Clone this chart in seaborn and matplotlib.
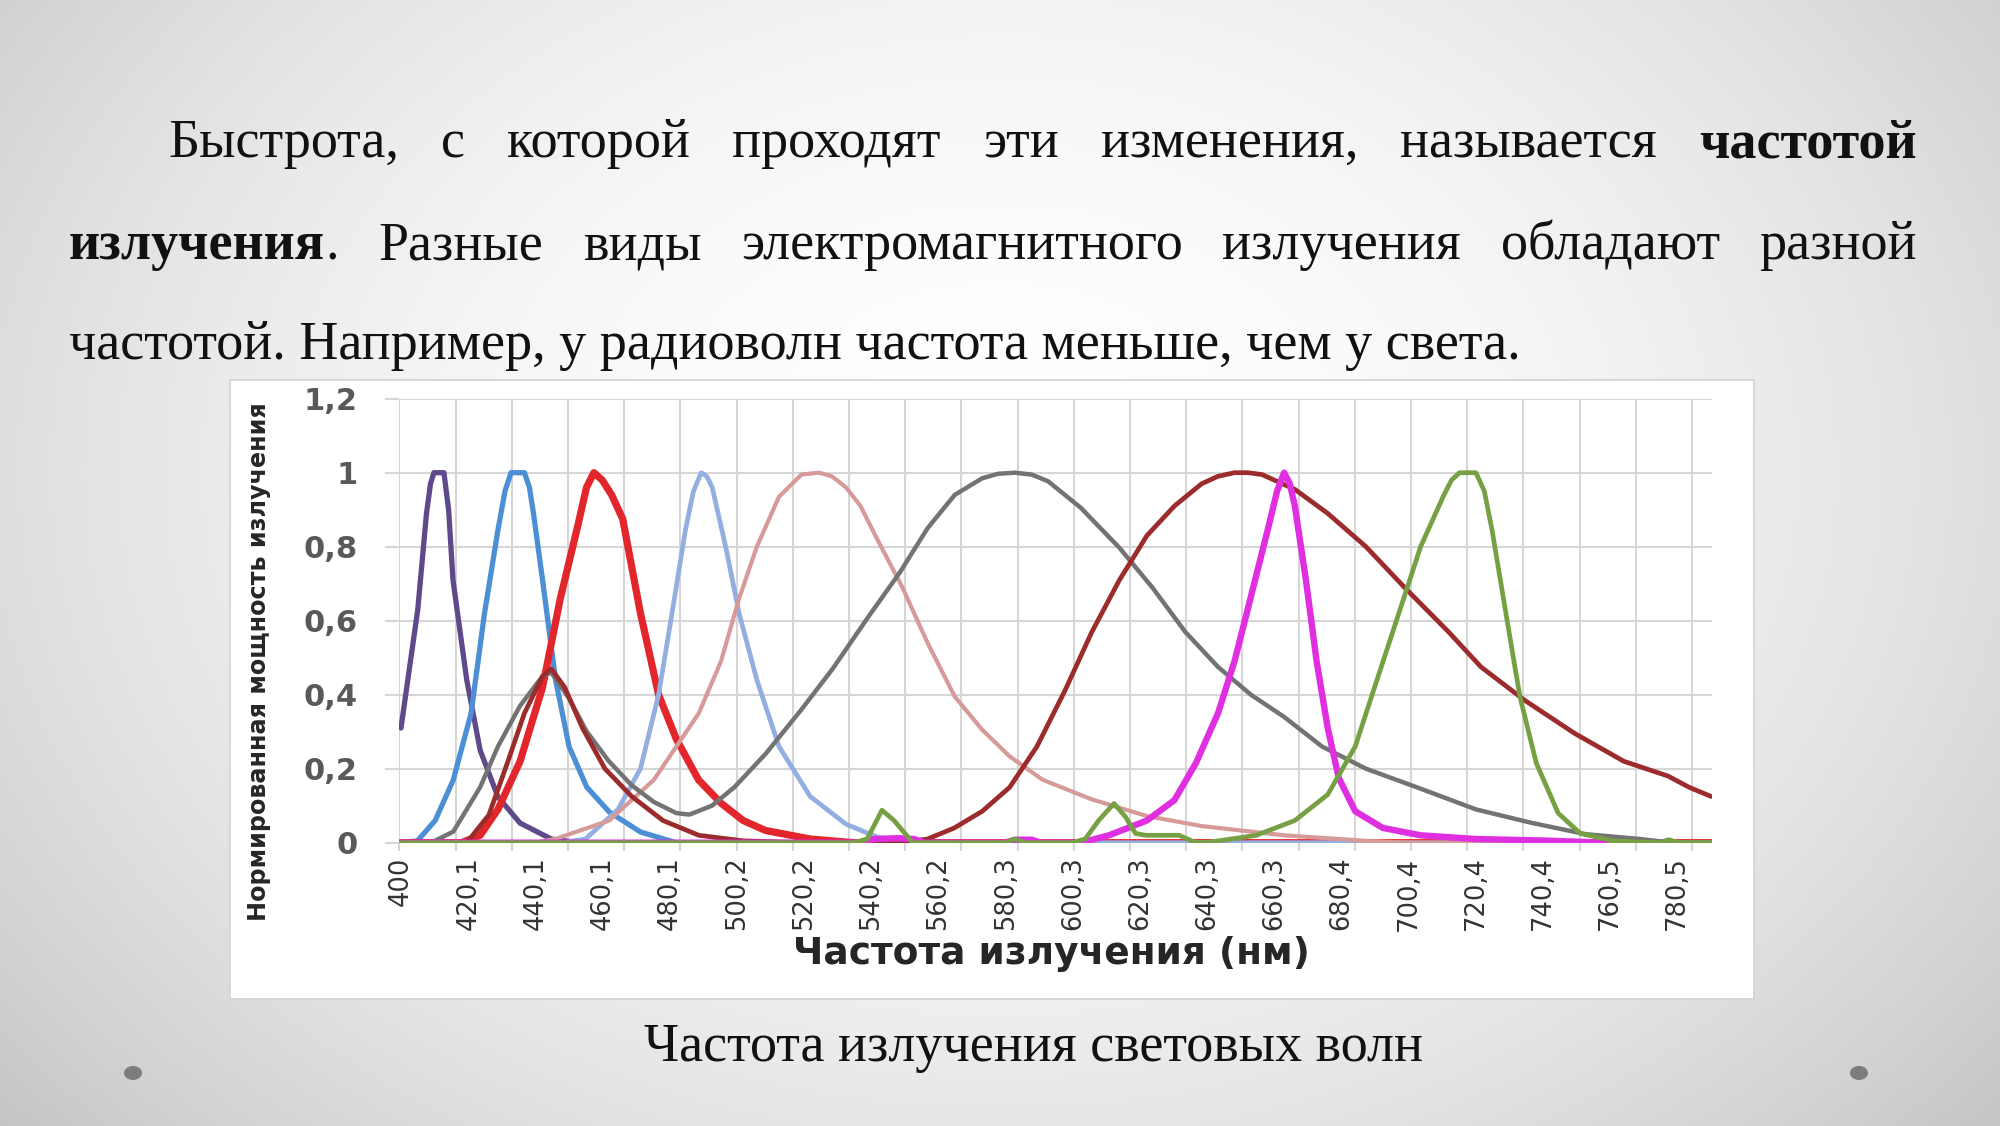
import numpy as np
import pandas as pd
import matplotlib
matplotlib.use("Agg")
import matplotlib.pyplot as plt
from matplotlib.patches import Rectangle, Ellipse
import seaborn as sns

# ---------------- data ----------------
series_names = ["purple", "blue", "red", "lightblue", "pink", "grey", "darkred", "magenta", "green"]

purple_x = [400, 402.5, 405, 407.6, 408.8, 409.8, 412.8, 414.2, 415.5, 419.6, 423.6, 428.9, 435.5, 444.8, 453, 790.6]
purple_y = [0.31, 0.47, 0.63, 0.89, 0.97, 1.0, 1.0, 0.9, 0.71, 0.44, 0.25, 0.124, 0.053, 0.01, 0.0, 0.0]

blue_x = [400, 404.9, 410.2, 415.6, 420.9, 424.9, 428.9, 431.0, 432.8, 436.8, 438.3, 439.5, 442.2, 446.1, 450.1,
          455.4, 462.1, 471.4, 482, 790.6]
blue_y = [0, 0.005, 0.06, 0.17, 0.35, 0.62, 0.845, 0.95, 1.0, 1.0, 0.96, 0.89, 0.71, 0.44, 0.26,
          0.15, 0.083, 0.029, 0.0, 0.0]

red_x = [400, 418, 423.6, 428.9, 435.5, 442.2, 447.5, 452.8, 455.3, 457.5, 460, 462.8, 466.1, 471.4, 476.8, 482.1,
         488.7, 495.4, 502, 508.7, 522, 535, 790.6]
red_y = [0, 0, 0.02, 0.09, 0.22, 0.42, 0.66, 0.86, 0.96, 1.0, 0.98, 0.94, 0.875, 0.62, 0.4, 0.28,
         0.17, 0.107, 0.06, 0.033, 0.01, 0, 0]

lightblue_x = [400, 448, 455, 464.7, 471.4, 476.8, 480.8, 484.8, 487.2, 489.5, 491.2, 492.8, 496.8, 500.8, 506.1,
               512.7, 522, 532.7, 542, 550, 790.6]
lightblue_y = [0, 0, 0.01, 0.09, 0.2, 0.4, 0.62, 0.845, 0.95, 1.0, 0.99, 0.96, 0.8, 0.62, 0.44,
               0.26, 0.125, 0.05, 0.015, 0, 0]

pink_x = [400, 440, 446, 462.1, 475.4, 488.8, 495.4, 500.8, 506.1, 512.7, 519.4, 524.7, 528.5, 532.7, 537, 542, 549.5,
          557, 565.1, 573.3, 581.5, 591.3, 606, 622.4, 638.7, 663.3, 687.7, 700, 790.6]
pink_y = [0, 0, 0.01, 0.06, 0.17, 0.35, 0.49, 0.66, 0.8, 0.935, 0.995, 1.0, 0.99, 0.96, 0.91, 0.82, 0.69,
          0.54, 0.395, 0.305, 0.233, 0.17, 0.117, 0.072, 0.045, 0.02, 0.005, 0, 0]

grey_x = [400, 409, 415.6, 423.6, 428.9, 435.5, 442.2, 444.8, 450.1, 455.4, 462, 468.8, 475.4, 482.1, 486, 492.7, 499.4,
          508.7, 519.4, 528.7, 539.3, 548.7, 557, 565.1, 573.3, 578, 583, 588, 592.9, 602.7, 614.2, 624, 633.8,
          643.6, 653.4, 663.3, 674.6, 687.7, 704, 720.5, 736.9, 753.2, 769.4, 775, 780, 790.6]
grey_y = [0, 0, 0.03, 0.15, 0.26, 0.37, 0.45, 0.46, 0.39, 0.3, 0.22, 0.155, 0.11, 0.08, 0.076, 0.1, 0.15,
          0.24, 0.36, 0.47, 0.61, 0.73, 0.85, 0.94, 0.985, 0.997, 1.0, 0.995, 0.977, 0.905, 0.797, 0.69, 0.57,
          0.475, 0.4, 0.34, 0.26, 0.2, 0.146, 0.09, 0.054, 0.023, 0.01, 0.004, 0.0, 0.0]

darkred_x = [400, 419.6, 426.2, 431.5, 436.8, 442.2, 444.8, 448.8, 454.1, 460.8, 468.8, 478.1, 488.8, 502, 520, 548.8,
             557, 565, 573.3, 581.5, 589.6, 597.9, 606, 614.2, 622.4, 630.6, 638.7, 643.5, 648.5, 652.5, 656.7,
             666.5, 676.3, 687.7, 699.2, 712.3, 722, 735, 750, 764.6, 777.8, 784, 790.6]
darkred_y = [0, 0, 0.075, 0.21, 0.35, 0.45, 0.47, 0.42, 0.31, 0.2, 0.125, 0.06, 0.02, 0.005, 0.0, 0.0,
             0.01, 0.04, 0.085, 0.15, 0.26, 0.41, 0.57, 0.71, 0.83, 0.91, 0.97, 0.99, 1.0, 1.0, 0.995,
             0.955, 0.89, 0.8, 0.69, 0.57, 0.475, 0.385, 0.295, 0.22, 0.18, 0.15, 0.125]

magenta_x = [400, 538, 541, 548, 553, 556, 580, 583, 588, 591, 602.7, 611.1, 622.4, 630.6, 637, 643.6, 648.5, 653.4,
             658.4, 661.2, 663.3, 665.0, 666.5, 669.8, 673, 676.3, 679.6, 684.5, 692.7, 704, 720.5, 740, 759.5]
magenta_y = [0, 0, 0.01, 0.012, 0.01, 0, 0, 0.008, 0.008, 0, 0, 0.02, 0.06, 0.115, 0.215, 0.35, 0.49, 0.665,
             0.845, 0.95, 1.0, 0.97, 0.91, 0.71, 0.49, 0.31, 0.175, 0.085, 0.04, 0.02, 0.01, 0.006, 0.0]

green_x = [400, 535, 539, 543.4, 547, 552.6, 560, 580, 583, 586, 600, 604, 608, 612.6, 616, 619, 622, 632, 637, 640,
           655, 666.5, 676.3, 684.5, 691, 697.5, 704, 710.7, 713.2, 715.6, 720.5, 723, 725.3, 728.6, 733.6, 738.5,
           745, 751.6, 761.4, 775, 778, 781, 790.6]
green_y = [0, 0, 0.01, 0.088, 0.06, 0, 0, 0, 0.01, 0, 0, 0.01, 0.06, 0.106, 0.07, 0.025, 0.02, 0.02, 0, 0,
           0.02, 0.06, 0.13, 0.26, 0.44, 0.62, 0.8, 0.935, 0.98, 1.0, 1.0, 0.95, 0.845, 0.665, 0.395, 0.215,
           0.08, 0.025, 0.005, 0, 0.008, 0, 0]

x_tick_values = [400, 420.1, 440.1, 460.1, 480.1, 500.2, 520.2, 540.2, 560.2, 580.3, 600.3, 620.3, 640.3,
                 660.3, 680.4, 700.4, 720.4, 740.4, 760.5, 780.5]
y_tick_values = [0, 0.2, 0.4, 0.6, 0.8, 1.0, 1.2]

x_label = "Частота излучения (нм)"
y_label = "Нормированная мощность излучения"
caption = "Частота излучения световых волн"

para_line1 = [[("Быстрота,", "normal")], [("с", "normal")], [("которой", "normal")], [("проходят", "normal")],
              [("эти", "normal")], [("изменения,", "normal")], [("называется", "normal")], [("частотой", "bold")]]
para_line2 = [[("излучения", "bold"), (".", "normal")], [("Разные", "normal")], [("виды", "normal")],
              [("электромагнитного", "normal")], [("излучения", "normal")], [("обладают", "normal")],
              [("разной", "normal")]]
para_line3 = "частотой. Например, у радиоволн частота меньше, чем у света."

# ---------------- styles ----------------
colors = {"purple": "#5e4a8a", "blue": "#4d8fd5", "red": "#e3262b", "lightblue": "#93aee0", "pink": "#d69a98",
          "grey": "#737373", "darkred": "#9c2b2b", "magenta": "#df2fe0", "green": "#76a043"}
widths = {"purple": 3.8, "blue": 3.8, "red": 5.2, "lightblue": 3.4, "pink": 3.0, "grey": 3.2, "darkred": 3.4,
          "magenta": 4.6, "green": 3.4}

frames = []
for name in series_names:
    xs = globals()[name + "_x"]
    ys = globals()[name + "_y"]
    frames.append(pd.DataFrame({"nm": xs, "value": ys, "series": name}))
df = pd.concat(frames, ignore_index=True)

sns.set_theme(style="white")
plt.rcParams['font.family'] = ['DejaVu Sans']

W, H, DPI = 2000, 1126, 100
fig = plt.figure(figsize=(W / DPI, H / DPI), dpi=DPI)


def fx(px):
    return px / W


def fy(py):
    return 1 - py / H


# background radial gradient
bg = fig.add_axes([0, 0, 1, 1], zorder=-10)
yy, xx = np.mgrid[0:H, 0:W]
r2 = ((xx - 1000) / 1000.0) ** 2 + ((yy - 470) / 760.0) ** 2
g = np.clip(1 - 0.13 * r2, 0.77, 1.0)
bg.imshow(np.dstack([g, g, g]), extent=[0, W, H, 0], aspect='auto', interpolation='bilinear')
bg.set_axis_off()

# chart white box
box = Rectangle((fx(230), fy(999)), fx(1754) - fx(230), fy(380) - fy(999), transform=fig.transFigure,
                facecolor='white', edgecolor='#d2d2d2', lw=1.2, zorder=-5)
fig.patches.append(box)

# bottom dots
for cxp in (133, 1859):
    fig.patches.append(Ellipse((fx(cxp), fy(1073)), 18 / W, 14 / H, transform=fig.transFigure,
                               facecolor='#7d7d7d', edgecolor='none', zorder=-4))

# main axes geometry: 3.354 px per nm, 400 nm at x=401 px
PXNM = 3.354
x_lo, x_hi = 399.52, 790.8
left_px = 401 + (x_lo - 400) * PXNM
right_px = 401 + (x_hi - 400) * PXNM
top_px, bot_px = 398.7, 842.7
ax = fig.add_axes([fx(left_px), fy(bot_px), (right_px - left_px) / W, (bot_px - top_px) / H])
ax.set_facecolor('white')

for name in series_names:
    sub = df[df["series"] == name]
    sns.lineplot(data=sub, x="nm", y="value", color=colors[name], linewidth=widths[name], ax=ax,
                 estimator=None, sort=True, legend=False)
for ln in ax.lines:
    ln.set_solid_joinstyle('round')
    ln.set_solid_capstyle('round')

ax.set_xlim(x_lo, x_hi)
ax.set_ylim(0, 1.2)
for s in ax.spines.values():
    s.set_visible(False)

ax.set_xticks(x_tick_values)
ax.set_xticklabels([f"{v:g}".replace('.', ',') for v in x_tick_values], rotation=90)
ax.set_xticks(x_lo + 16.757 * np.arange(24), minor=True)
ax.set_yticks(y_tick_values)
ax.set_yticklabels([f"{v:g}".replace('.', ',') for v in y_tick_values])

ax.tick_params(axis='x', which='major', length=0, pad=10, labelsize=18.5, labelcolor='#333333')
ax.tick_params(axis='x', which='minor', length=6, width=1.5, color='#d6d6d6', direction='out', bottom=True)
ax.tick_params(axis='y', which='major', length=10, width=1.5, color='#d6d6d6', direction='out', left=True,
               pad=20, labelsize=22, labelcolor='#595959')
for lab in ax.get_yticklabels():
    lab.set_fontweight('bold')

ax.grid(False)
ax.grid(True, which='minor', axis='x', color='#d6d6d6', lw=1.5)
ax.grid(True, which='major', axis='y', color='#d6d6d6', lw=1.5)
ax.set_axisbelow(True)

ax.set_xlabel(x_label, fontsize=27, fontweight='bold', color='#262626', va='center')
ax.xaxis.set_label_coords(0.497, -(954 - bot_px) / (bot_px - top_px))
ax.set_ylabel(y_label, fontsize=17.2, fontweight='bold', color='#262626', va='center')
ax.yaxis.set_label_coords((259 - left_px) / (right_px - left_px), (bot_px - 662) / (bot_px - top_px))

# ---------------- slide text ----------------
serif = ['Liberation Serif', 'DejaVu Serif']
FS = 39
renderer = fig.canvas.get_renderer()


def place_justified(words, x0, x1, baseline):
    arts, tot = [], []
    for w in words:
        pieces = [fig.text(0, fy(baseline), t, fontsize=FS, family=serif, weight=wt, va='baseline',
                           ha='left', color='#111111') for t, wt in w]
        ws = [p.get_window_extent(renderer).width for p in pieces]
        arts.append((pieces, ws))
        tot.append(sum(ws))
    gap = (x1 - x0 - sum(tot)) / (len(words) - 1)
    x = x0
    for (pieces, ws), tw in zip(arts, tot):
        xp = x
        for p, wv in zip(pieces, ws):
            p.set_x(fx(xp))
            xp += wv
        x += tw + gap


place_justified(para_line1, 168, 1917, 157)
place_justified(para_line2, 69, 1917, 259)
fig.text(fx(69), fy(359), para_line3, fontsize=FS, family=serif, va='baseline', ha='left', color='#111111')

fig.text(fx(1033), fy(1061), caption, fontsize=FS, family=serif, va='baseline', ha='center', color='#111111')

fig.savefig('out.png', dpi=DPI)
